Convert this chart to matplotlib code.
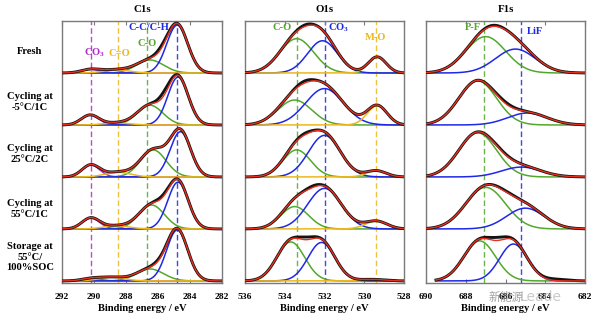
import numpy as np
import matplotlib
matplotlib.use("Agg")
import matplotlib.pyplot as plt

plt.rcParams['font.family'] = ['Liberation Serif', 'DejaVu Serif']
plt.rcParams['font.weight'] = 'bold'
plt.rcParams['mathtext.default'] = 'regular'

# ---------------- data ----------------
row_labels = ["Fresh", "Cycling at\n-5°C/1C", "Cycling at\n25°C/2C",
              "Cycling at\n55°C/1C", "Storage at\n55°C/\n100%SOC"]

# C1s components: CO3, C=O, C-O, C-C/C-H   (rows: Fresh, -5C, 25C, 55C, Storage)
c1s_co3_center = [290.2, 290.25, 290.2, 290.2, 290.2]
c1s_co3_amp = [0.07, 0.19, 0.23, 0.21, 0.04]
c1s_co3_sigma = [0.6, 0.55, 0.55, 0.55, 0.6]
c1s_ceo_center = [288.6, 288.6, 288.5, 288.6, 288.9]
c1s_ceo_amp = [0.06, 0.04, 0.09, 0.06, 0.07]
c1s_ceo_sigma = [0.8, 0.8, 0.8, 0.8, 0.8]
c1s_co_center = [286.5, 286.5, 286.3, 286.4, 286.5]
c1s_co_amp = [0.25, 0.38, 0.52, 0.46, 0.23]
c1s_co_sigma = [0.85, 0.8, 0.8, 0.8, 0.85]
c1s_cc_center = [284.8, 284.75, 284.6, 284.75, 284.8]
c1s_cc_amp = [0.92, 0.92, 0.87, 0.90, 0.98]
c1s_cc_sigma = [0.66, 0.64, 0.64, 0.64, 0.66]
c1s_resid = [[(285.8, 0.05, 0.4)], [(285.6, 0.08, 0.4)], [], [(285.7, 0.04, 0.4)], [(286.0, 0.03, 0.4)]]

# O1s components: C-O, CO3, M-O
o1s_co_center = [533.4, 533.5, 533.4, 533.5, 533.7]
o1s_co_amp = [0.66, 0.48, 0.52, 0.43, 0.75]
o1s_co_sigma = [0.85, 0.85, 0.7, 0.7, 0.7]
o1s_co3_center = [532.1, 532.0, 532.0, 532.0, 532.15]
o1s_co3_amp = [0.62, 0.70, 0.80, 0.78, 0.74]
o1s_co3_sigma = [0.75, 0.95, 0.8, 0.85, 0.68]
o1s_mo_center = [529.35, 529.35, 529.4, 529.4, 529.6]
o1s_mo_amp = [0.31, 0.37, 0.12, 0.15, 0.03]
o1s_mo_sigma = [0.45, 0.5, 0.5, 0.55, 0.6]
o1s_resid = [[(533.0, 0.03, 0.4)], [(533.0, 0.04, 0.4)], [(533.0, 0.03, 0.4)], [(532.6, 0.03, 0.4)], [(532.9, 0.05, 0.4)]]

# F1s components: P-F, LiF
f1s_pf_center = [687.0, 687.4, 687.4, 687.0, 687.3]
f1s_pf_amp = [0.70, 0.85, 0.85, 0.80, 0.77]
f1s_pf_sigma = [1.0, 0.95, 0.95, 1.0, 0.8]
f1s_lif_center = [685.5, 684.9, 685.2, 685.0, 685.6]
f1s_lif_amp = [0.46, 0.23, 0.19, 0.40, 0.71]
f1s_lif_sigma = [1.0, 1.0, 1.0, 0.95, 0.7]
f1s_start = [690.0, 690.0, 690.0, 690.0, 689.5]
f1s_resid = [[(686.6, 0.02, 0.5)], [(686.0, 0.03, 0.5)], [(686.2, 0.02, 0.5)], [(686.0, 0.02, 0.5)],
             [(686.4, 0.06, 0.45), (683.5, 0.03, 0.6)]]

# reference (dashed) positions and labels
c1s_lines = [290.2, 288.5, 286.7, 284.8]
o1s_lines = [533.4, 532.0, 529.4]
f1s_lines = [687.1, 685.2]

titles = ["C1s", "O1s", "F1s"]
xlims = [(292, 282), (536, 528), (690, 682)]
xticks = [[292, 290, 288, 286, 284, 282], [536, 534, 532, 530, 528], [690, 688, 686, 684, 682]]

# ---------------- styling ----------------
PURPLE = '#b02cc8'
GOLD = '#ecb81c'
GREEN = '#52a82c'
BLUE = '#1e28e6'
RED = '#e8301e'
BLACK = '#141414'
FRAME = '#7a7a7a'

W, H = 600, 323
fig = plt.figure(figsize=(6.0, 3.23), dpi=100)

def fx(px):
    return px / W

def fy(py):
    return 1 - py / H

panel_px = [(62, 222), (245, 404), (426, 585)]
top_px, bot_px = 21, 283

def gauss(x, a, c, s):
    return a * np.exp(-0.5 * ((x - c) / s) ** 2)

offsets = [4.04, 3.04, 2.04, 1.04, 0.04]

panels = [
    dict(comps=[(PURPLE, c1s_co3_center, c1s_co3_amp, c1s_co3_sigma),
                (GREEN, c1s_co_center, c1s_co_amp, c1s_co_sigma),
                (BLUE, c1s_cc_center, c1s_cc_amp, c1s_cc_sigma),
                (GOLD, c1s_ceo_center, c1s_ceo_amp, c1s_ceo_sigma)],
         resid=c1s_resid, lines=list(zip(c1s_lines, [PURPLE, GOLD, GREEN, BLUE])),
         start=[292.0] * 5),
    dict(comps=[(GREEN, o1s_co_center, o1s_co_amp, o1s_co_sigma),
                (BLUE, o1s_co3_center, o1s_co3_amp, o1s_co3_sigma),
                (GOLD, o1s_mo_center, o1s_mo_amp, o1s_mo_sigma)],
         resid=o1s_resid, lines=list(zip(o1s_lines, [GREEN, BLUE, GOLD])),
         start=[536.0] * 5),
    dict(comps=[(GREEN, f1s_pf_center, f1s_pf_amp, f1s_pf_sigma),
                (BLUE, f1s_lif_center, f1s_lif_amp, f1s_lif_sigma)],
         resid=f1s_resid, lines=list(zip(f1s_lines, [GREEN, BLUE])),
         start=f1s_start),
]

axes = []
for p, (spec, (l, r)) in enumerate(zip(panels, panel_px)):
    ax = fig.add_axes([fx(l), fy(bot_px), fx(r) - fx(l), fy(top_px) - fy(bot_px)])
    axes.append(ax)
    hi, lo = xlims[p]
    ax.set_xlim(hi, lo)
    ax.set_ylim(0, 5.04)
    for xv, col in spec['lines']:
        ax.axvline(xv, color=col, lw=1.0, dashes=(4, 2.2), alpha=0.85, zorder=1)
    for i in range(5):
        x = np.linspace(spec['start'][i], lo, 500)
        off = offsets[i]
        total = np.zeros_like(x)
        for col, cen, amp, sig in spec['comps']:
            y = gauss(x, amp[i], cen[i], sig[i])
            total += y
            ax.plot(x, y + off, color=col, lw=1.1, zorder=2)
        data = total.copy()
        for c, a, s in spec['resid'][i]:
            data += gauss(x, a, c, s)
        ax.plot(x, data + off, color=BLACK, lw=2.1, zorder=3)
        ax.plot(x, total + off, color=RED, lw=1.0, zorder=4)
    ax.set_xticks(xticks[p])
    ax.set_yticks([])
    ax.tick_params(axis='x', direction='in', top=True, bottom=True, length=3,
                   width=0.8, color=FRAME, labelsize=6.8, pad=7)
    for lab in ax.get_xticklabels():
        lab.set_fontweight('bold')
    for s in ax.spines.values():
        s.set_color(FRAME)
        s.set_linewidth(1.0)
    ax.set_xlabel("Binding energy / eV", fontsize=7.6, fontweight='bold', labelpad=2.5)
    fig.text(fx((l + r) / 2), fy(10), titles[p], fontsize=7.8, fontweight='bold',
             ha='center', va='center')

# row labels
row_y = [52, 102, 154, 209, 257]
for lab, yy in zip(row_labels, row_y):
    fig.text(fx(30), fy(yy), lab, fontsize=7.6, fontweight='bold', ha='center',
             va='center', linespacing=1.2)

# peak labels
peak_labels = [
    ("C-C/C-H", BLUE, 149, 28), ("C-O", GREEN, 147, 43),
    ("CO$_3$", PURPLE, 95, 53), ("C=O", GOLD, 119, 53),
    ("C-O", GREEN, 282, 27), ("CO$_3$", BLUE, 339, 28), ("M-O", GOLD, 376, 37),
    ("P-F", GREEN, 473, 28), ("LiF", BLUE, 535, 32),
]
for txt, col, px, py in peak_labels:
    fig.text(fx(px), fy(py), txt, color=col, fontsize=7.6, fontweight='bold',
             ha='center', va='center', zorder=10)

# watermark
fig.text(fx(489), fy(297), "新能源", fontsize=8.5, color='#8c8c8c', alpha=0.8,
         family=['Noto Sans CJK SC', 'DejaVu Sans'], fontweight='normal', va='center', zorder=20)
fig.text(fx(520), fy(297), "Leade", fontsize=10, color='#bdbdbd', alpha=0.8,
         family=['DejaVu Sans'], fontweight='normal', va='center', zorder=20)

fig.savefig("out.png", dpi=100)
